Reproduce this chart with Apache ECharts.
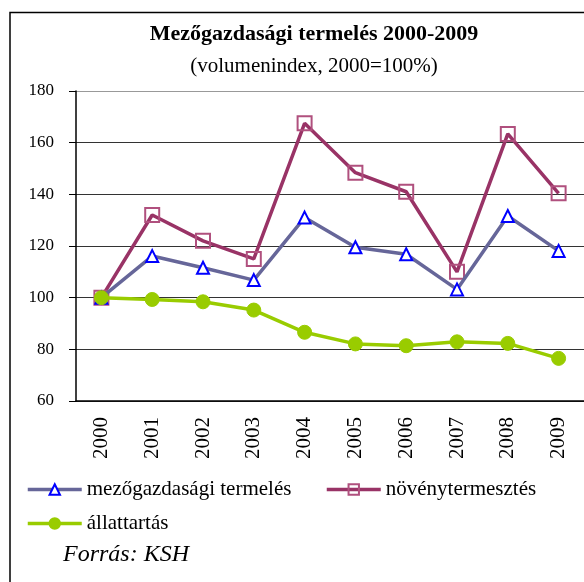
<!DOCTYPE html>
<html>
<head>
<meta charset="UTF-8">
<title>Mezőgazdasági termelés</title>
<script src="https://cdn.jsdelivr.net/npm/echarts@6/dist/echarts.min.js"></script>
<style>
  html, body { margin: 0; padding: 0; background: #fff; }
</style>
</head>
<body>
<div id="main" style="width: 584px;height:582px;"></div>
<script type="text/javascript">
        // adatok (2000=100%)
        var years = ['2000', '2001', '2002', '2003', '2004', '2005', '2006', '2007', '2008', '2009'];
        var mezogazdasagi = [100, 116.1, 111.6, 106.8, 131, 119.5, 116.8, 103.2, 131.6, 118.1];
        var novenytermesztes = [100, 132, 122, 115, 167.5, 148.4, 141, 110, 163.4, 140.4];
        var allattartas = [100, 99.3, 98.4, 95.2, 86.6, 82.1, 81.4, 82.9, 82.3, 76.5];
        var yTicks = [60, 80, 100, 120, 140, 160, 180];

        var serif = '"Liberation Serif", "Times New Roman", serif';
        var myChart = echarts.init(document.getElementById('main'));

        var legendText = { fontFamily: serif, fontSize: 21, color: '#000' };
        var legendBase = { padding: 0, itemWidth: 54, itemHeight: 13, textStyle: legendText, lineStyle: { width: 3.5 } };

        myChart.setOption({
            animation: false,
            backgroundColor: '#fff',
            graphic: [{
                type: 'rect',
                shape: { x: 10, y: 12.5, width: 600, height: 600 },
                style: { fill: 'none', stroke: '#000', lineWidth: 1.5 },
                silent: true
            }, {
                type: 'text',
                left: 63,
                top: 543,
                style: { text: 'Forrás: KSH', font: 'italic 24px ' + serif, fill: '#000' }
            }],
            title: {
                text: 'Mezőgazdasági termelés 2000-2009',
                subtext: '(volumenindex, 2000=100%)',
                left: 314,
                textAlign: 'center',
                top: 23,
                itemGap: 11,
                padding: 0,
                textStyle: { fontFamily: serif, fontSize: 22, fontWeight: 'bold', color: '#000' },
                subtextStyle: { fontFamily: serif, fontSize: 21, color: '#000' }
            },
            legend: [
                Object.assign({ data: ['mezőgazdasági termelés'], left: 26, top: 479 }, legendBase),
                Object.assign({ data: ['növénytermesztés'], left: 325, top: 479 }, legendBase),
                Object.assign({ data: ['állattartás'], left: 26, top: 513 }, legendBase)
            ],
            grid: { left: 76, right: 0, top: 91, bottom: 181 },
            xAxis: {
                type: 'category',
                data: years,
                boundaryGap: true,
                axisLine: { lineStyle: { color: '#000', width: 1.5 } },
                axisTick: { length: 6, lineStyle: { color: '#000' } },
                axisLabel: { rotate: 90, margin: 16, fontFamily: serif, fontSize: 21, color: '#000' }
            },
            yAxis: {
                type: 'value',
                min: yTicks[0],
                max: yTicks[yTicks.length - 1],
                interval: 20,
                axisLine: { show: true, lineStyle: { color: '#000', width: 1.5 } },
                axisTick: { show: true, length: 7, lineStyle: { color: '#000' } },
                axisLabel: { margin: 22, fontFamily: serif, fontSize: 17, color: '#000' },
                splitLine: { lineStyle: { color: ['#333', '#333', '#333', '#333', '#333', '#333', '#999'], width: 1.2 } }
            },
            series: [{
                name: 'mezőgazdasági termelés',
                type: 'line',
                data: mezogazdasagi,
                symbol: 'triangle',
                symbolSize: 12,
                lineStyle: { color: '#666699', width: 3.5 },
                itemStyle: { color: '#fff', borderColor: '#0000ff', borderWidth: 2 },
                z: 3
            }, {
                name: 'növénytermesztés',
                type: 'line',
                data: novenytermesztes,
                symbol: 'rect',
                symbolSize: 14,
                lineStyle: { color: '#993366', width: 3.5 },
                itemStyle: { color: 'rgba(255,255,255,0)', borderColor: '#b0507e', borderWidth: 2 },
                z: 2
            }, {
                name: 'állattartás',
                type: 'line',
                data: allattartas,
                symbol: 'circle',
                symbolSize: 14,
                lineStyle: { color: '#99cc00', width: 3.5 },
                itemStyle: { color: '#99cc00', borderColor: '#99cc00', borderWidth: 1 },
                z: 4
            }]
        });
    </script>
</body>
</html>
